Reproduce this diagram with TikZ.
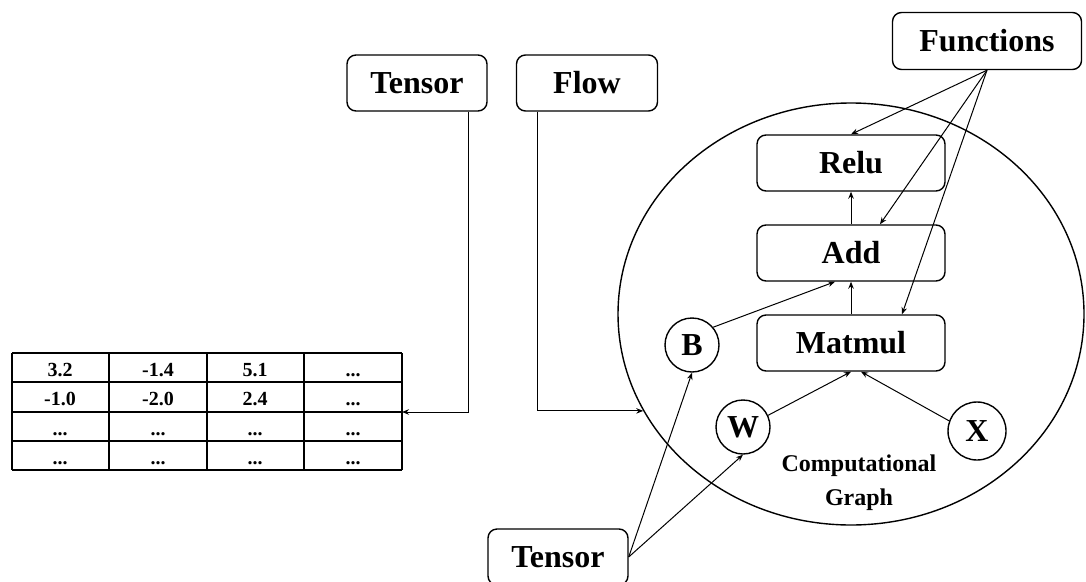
\documentclass[tikz,border=0pt]{standalone}
\usepackage{fontspec}
\setmainfont{Liberation Serif}
\usetikzlibrary{shapes.geometric,arrows.meta}

\newcommand{\tdots}{...}

\tikzset{
	box/.style={draw, rounded corners=9pt, line width=1.4pt, minimum width=188pt, minimum height=56pt, font=\fontsize{32}{32}\selectfont\bfseries},
	var/.style={draw, circle, line width=1.4pt, minimum size=54pt, inner sep=0pt, font=\fontsize{32}{32}\selectfont\bfseries},
	cell/.style={font=\fontsize{20}{20}\selectfont\bfseries, text height=14pt, text depth=0pt, inner sep=0pt},
	link/.style={->, line width=1pt}
}

\begin{document}
\begin{tikzpicture}[x=1pt,y=-1pt,>={Stealth[length=7pt,width=5.5pt]}]
		\useasboundingbox (0,0) rectangle (1086,581);

		% draw the grid of the table
		\foreach \y in {353,382,412,441,470}
			\draw[line width=1.3pt] (12,\y) -- (402,\y);
		\foreach \x in {12,109,207,304,402}
			\draw[line width=1.3pt] (\x,353) -- (\x,470);
		\coordinate (tabin) at (402,412);

		% draw the values in the table
		\foreach \r/\y/\a/\b/\c/\d in {
		1/369/3.2/-1.4/5.1/\tdots,
		2/398/-1.0/-2.0/2.4/\tdots,
		3/428/\tdots/\tdots/\tdots/\tdots,
		4/457/\tdots/\tdots/\tdots/\tdots}
			{
			\node[cell] (cell\r a) at (60,\y) {\a};
			\node[cell] (cell\r b) at (158,\y) {\b};
			\node[cell] (cell\r c) at (255,\y) {\c};
			\node[cell] (cell\r d) at (353,\y) {\d};
			}

		% the labels on top
		\node[box, minimum width=140pt] (tensorA) at (417,83) {Tensor};
		\node[box, minimum width=141pt] (flow) at (587,83) {Flow};
		\node[box, minimum width=189pt, minimum height=57pt] (functions) at (987,41) {Functions};

		% the computational graph
		\node[draw, ellipse, line width=1.4pt, minimum width=466pt, minimum height=422pt, inner sep=0pt] (graph) at (851,314) {};
		\node[font=\fontsize{24}{34}\selectfont\bfseries, align=center] (graphlabel) at (859,483) {Computational\\Graph};

		% the operations
		\node[box] (relu) at (851,163) {Relu};
		\node[box] (add) at (851,253) {Add};
		\node[box] (matmul) at (851,343) {Matmul};

		% the variables
		\node[var] (b) at (692,345) {B};
		\node[var] (w) at (743,427) {W};
		\node[var, minimum size=58pt] (x) at (977,431) {X};

		\node[box, minimum width=140pt] (tensorB) at (558,557) {Tensor};

		% edges of the graph
		\draw[link] (add) -- (relu);
		\draw[link] (matmul) -- (add);
		\draw[link] (b.40) -- ([xshift=-16pt]add.south);
		\draw[link] (w.25) -- (matmul.south);
		\draw[link] (x.160) -- ([xshift=10pt]matmul.south);

		% what the functions point at
		\draw[link] (functions.south) -- (relu.north);
		\draw[link] (functions.south) -- ([xshift=29pt]add.north);
		\draw[link] (functions.south) -- ([xshift=51pt]matmul.north);

		% tensors feed the variables
		\draw[link] (tensorB.east) -- (b.south);
		\draw[link] (tensorB.east) -- (w.south);

		% tensor and flow
		\draw[link] ([xshift=51pt]tensorA.south) |- (tabin);
		\draw[link] ([xshift=-50pt]flow.south) |- (graph.205);
	\end{tikzpicture}
\end{document}
